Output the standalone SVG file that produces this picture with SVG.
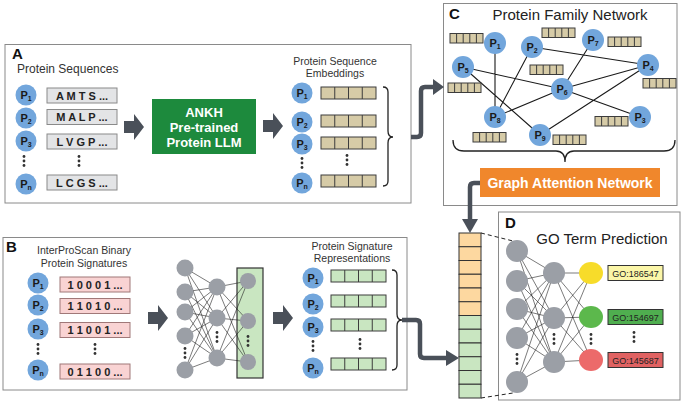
<svg xmlns="http://www.w3.org/2000/svg" xmlns:xlink="http://www.w3.org/1999/xlink" width="682" height="402" viewBox="0 0 682 402">
<style>
.panel{fill:#fff;stroke:#8a8a8a;stroke-width:1}
.pc{fill:#72a6dc}
.pl{font-family:'Liberation Sans',Arial,sans-serif;font-weight:bold;font-size:11px;fill:#1a1a1a;text-anchor:middle}
.sb{font-size:7px}
.seq{fill:#e3e4e6;stroke:#8a8a8a;stroke-width:1}
.bin{fill:#f9d3d3;stroke:#a07878;stroke-width:1}
.seqt{font-family:'Liberation Sans',Arial,sans-serif;font-weight:bold;font-size:11px;fill:#222;text-anchor:middle}
.lbl{font-family:'Liberation Sans',Arial,sans-serif;font-weight:bold;font-size:15px;fill:#111}
.t{font-family:'Liberation Sans',Arial,sans-serif;font-size:10.5px;fill:#333;text-anchor:middle}
.t12{font-family:'Liberation Sans',Arial,sans-serif;font-size:12px;fill:#333}
.title{font-family:'Liberation Sans',Arial,sans-serif;font-size:15px;fill:#222;text-anchor:middle}
.wb{font-family:'Liberation Sans',Arial,sans-serif;font-weight:bold;fill:#fff;text-anchor:middle}
.nn{fill:#9b9fa6}
.w{stroke:#222;stroke-width:0.6;fill:none}
.conn{fill:none;stroke:#4a5059;stroke-width:4.5;stroke-linejoin:round}
.head{fill:#4a5059}
.dot{fill:#333}
.brace{fill:none;stroke:#222;stroke-width:1.3}
.et{fill:#d6cba7;stroke:#3c3c3c;stroke-width:1}
.eg{fill:#c9e6c1;stroke:#3c3c3c;stroke-width:1}
.edge{stroke:#1a1a1a;stroke-width:1.1}
.go{font-family:'Liberation Sans',Arial,sans-serif;font-size:9px;fill:#222;text-anchor:middle}
</style>
<defs>
<g id="vd"><circle cy="-4.5" r="1.4"/><circle r="1.4"/><circle cy="4.5" r="1.4"/></g>
<g id="e4"><rect width="55" height="12"/><path d="M13.75,0v12M27.5,0v12M41.25,0v12"/></g>
<g id="e5"><rect width="33" height="9.5"/><path d="M6.6,0v9.5M13.2,0v9.5M19.8,0v9.5M26.4,0v9.5"/></g>
<path id="blk" d="M0,-6H10V-13L20,0L10,13V6H0Z"/>
</defs>

<!-- Panel A -->
<g id="panelA">
<rect class="panel" x="5" y="44.5" width="406" height="158.5"/>
<text class="lbl" x="12" y="59">A</text>
<text class="t12" x="17" y="73">Protein Sequences</text>
</g>
<g id="A-seq-nodes">
<circle class="pc" cx="26" cy="95" r="10.5"/><text class="pl" x="26" y="99">P<tspan class="sb" dy="2">1</tspan></text>
<circle class="pc" cx="26" cy="118" r="10.5"/><text class="pl" x="26" y="122">P<tspan class="sb" dy="2">2</tspan></text>
<circle class="pc" cx="26" cy="141" r="10.5"/><text class="pl" x="26" y="145">P<tspan class="sb" dy="2">3</tspan></text>
<use href="#vd" class="dot" x="24" y="161"/>
<circle class="pc" cx="26" cy="184" r="10.5"/><text class="pl" x="26" y="188">P<tspan class="sb" dy="2">n</tspan></text>
<rect class="seq" x="47" y="88" width="70" height="15"/><text class="seqt" x="82" y="99.5">A M T S ...</text>
<rect class="seq" x="47" y="109.5" width="70" height="15"/><text class="seqt" x="82" y="121">M A L P ...</text>
<rect class="seq" x="47" y="134" width="70" height="15"/><text class="seqt" x="82" y="145.5">L V G P ...</text>
<use href="#vd" class="dot" x="79" y="161"/>
<rect class="seq" x="47" y="175" width="70" height="15"/><text class="seqt" x="82" y="186.5">L C G S ...</text>
</g>
<g id="ankh">
<rect x="152" y="99" width="104" height="55" fill="#1d8a3d"/>
<text class="wb" font-size="13" x="204" y="117">ANKH</text>
<text class="wb" font-size="13" x="204" y="132">Pre-trained</text>
<text class="wb" font-size="13" x="204" y="147">Protein LLM</text>
</g>
<g id="A-emb">
<text class="t" x="335" y="65">Protein Sequence</text>
<text class="t" x="335" y="77">Embeddings</text>
<circle class="pc" cx="302" cy="93" r="10.5"/><text class="pl" x="302" y="97">P<tspan class="sb" dy="2">1</tspan></text>
<circle class="pc" cx="302" cy="122" r="10.5"/><text class="pl" x="302" y="126">P<tspan class="sb" dy="2">2</tspan></text>
<circle class="pc" cx="302" cy="144" r="10.5"/><text class="pl" x="302" y="148">P<tspan class="sb" dy="2">3</tspan></text>
<use href="#vd" class="dot" x="302" y="163"/>
<circle class="pc" cx="302" cy="183" r="10.5"/><text class="pl" x="302" y="187">P<tspan class="sb" dy="2">n</tspan></text>
<use href="#e4" class="et" x="321" y="87"/>
<use href="#e4" class="et" x="321" y="115"/>
<use href="#e4" class="et" x="321" y="137"/>
<use href="#vd" class="dot" x="347" y="160"/>
<use href="#e4" class="et" x="321" y="175"/>
<path class="brace" d="M383,87 Q388,87 388,92 V131 Q388,137 393,137 Q388,137 388,143 V181 Q388,186 383,186"/>
</g>

<!-- Panel C -->
<g id="panelC">
<rect class="panel" x="443.5" y="3.5" width="233.5" height="202"/>
<text class="lbl" x="449" y="19" font-size="14">C</text>
<text class="title" x="570" y="20">Protein Family Network</text>
</g>
<g id="C-edges">
<path class="edge" d="M495,43L495,117M532,47L495,117M532,47L648,65M463,67L562,89M562,89L640,117M463,67L540,135M593,40L562,89M562,89L648,65M495,117L562,89M648,65L540,135"/>
</g>
<g id="C-emb">
<use href="#e5" class="et" x="450" y="33.5"/>
<use href="#e5" class="et" x="542" y="28"/>
<use href="#e5" class="et" x="608" y="37"/>
<use href="#e5" class="et" x="530" y="65"/>
<use href="#e5" class="et" x="448" y="83"/>
<use href="#e5" class="et" x="643" y="78.5"/>
<use href="#e5" class="et" x="595" y="116.5"/>
<use href="#e5" class="et" x="473" y="132.5"/>
<use href="#e5" class="et" x="553" y="135"/>
</g>
<g id="C-nodes">
<g id="nP1"><circle class="pc" cx="495" cy="43" r="11"/><text class="pl" x="495" y="47">P<tspan class="sb" dy="2">1</tspan></text></g>
<g id="nP2"><circle class="pc" cx="532" cy="47" r="11"/><text class="pl" x="532" y="51">P<tspan class="sb" dy="2">2</tspan></text></g>
<g id="nP7"><circle class="pc" cx="593" cy="40" r="11"/><text class="pl" x="593" y="44">P<tspan class="sb" dy="2">7</tspan></text></g>
<g id="nP5"><circle class="pc" cx="463" cy="67" r="11"/><text class="pl" x="463" y="71">P<tspan class="sb" dy="2">5</tspan></text></g>
<g id="nP4"><circle class="pc" cx="648" cy="65" r="11"/><text class="pl" x="648" y="69">P<tspan class="sb" dy="2">4</tspan></text></g>
<g id="nP6"><circle class="pc" cx="562" cy="89" r="11"/><text class="pl" x="562" y="93">P<tspan class="sb" dy="2">6</tspan></text></g>
<g id="nP8"><circle class="pc" cx="495" cy="117" r="11"/><text class="pl" x="495" y="121">P<tspan class="sb" dy="2">8</tspan></text></g>
<g id="nP3"><circle class="pc" cx="640" cy="117" r="11"/><text class="pl" x="640" y="121">P<tspan class="sb" dy="2">3</tspan></text></g>
<g id="nP9"><circle class="pc" cx="540" cy="135" r="11"/><text class="pl" x="540" y="139">P<tspan class="sb" dy="2">9</tspan></text></g>
</g>
<path class="brace" d="M453,140 Q453,151 464,151 H556 Q565,151 565,162 Q565,151 574,151 H664 Q675,151 675,140"/>
<g id="gat">
<rect x="480" y="168" width="180" height="29" fill="#f0872c"/>
<text class="wb" font-size="14" x="570" y="187.5">Graph Attention Network</text>
</g>

<!-- Panel B -->
<g id="panelB">
<rect class="panel" x="3" y="237.5" width="404" height="152.5"/>
<text class="lbl" x="6" y="252" font-size="14">B</text>
<text class="t" x="84" y="254">InterProScan Binary</text>
<text class="t" x="84" y="267">Protein Signatures</text>
</g>
<g id="B-bin">
<circle class="pc" cx="38" cy="283" r="10.5"/><text class="pl" x="38" y="287">P<tspan class="sb" dy="2">1</tspan></text>
<circle class="pc" cx="38" cy="305" r="10.5"/><text class="pl" x="38" y="309">P<tspan class="sb" dy="2">2</tspan></text>
<circle class="pc" cx="38" cy="329" r="10.5"/><text class="pl" x="38" y="333">P<tspan class="sb" dy="2">3</tspan></text>
<use href="#vd" class="dot" x="38" y="349"/>
<circle class="pc" cx="38" cy="370" r="10.5"/><text class="pl" x="38" y="374">P<tspan class="sb" dy="2">n</tspan></text>
<rect class="bin" x="60" y="277" width="70" height="15"/><text class="seqt" x="95" y="288.5">1 0 0 0 1 ...</text>
<rect class="bin" x="60" y="298.5" width="70" height="15"/><text class="seqt" x="95" y="310">1 1 0 1 0 ...</text>
<rect class="bin" x="60" y="322.5" width="70" height="15"/><text class="seqt" x="95" y="334">1 1 0 0 1 ...</text>
<use href="#vd" class="dot" x="95" y="349"/>
<rect class="bin" x="60" y="364" width="70" height="15"/><text class="seqt" x="95" y="375.5">0 1 1 0 0 ...</text>
</g>
<g id="B-nn">
<rect x="237" y="268" width="26" height="110" fill="#c9e6c1" stroke="#333" stroke-width="1.2"/>
<path class="w" d="M185,268L217,287M185,268L217,318M185,268L217,358M185,292L217,287M185,292L217,318M185,292L217,358M185,312L217,287M185,312L217,318M185,312L217,358M185,336L217,287M185,336L217,318M185,336L217,358M185,370L217,287M185,370L217,318M185,370L217,358M217,287L248,281M217,287L248,321M217,287L248,362M217,318L248,281M217,318L248,321M217,318L248,362M217,358L248,281M217,358L248,321M217,358L248,362"/>
<circle class="nn" cx="185" cy="268" r="8.5"/>
<circle class="nn" cx="185" cy="292" r="8.5"/>
<circle class="nn" cx="185" cy="312" r="8.5"/>
<circle class="nn" cx="185" cy="336" r="8.5"/>
<use href="#vd" class="dot" x="185" y="353"/>
<circle class="nn" cx="185" cy="370" r="8.5"/>
<circle class="nn" cx="217" cy="287" r="8.5"/>
<circle class="nn" cx="217" cy="318" r="8.5"/>
<use href="#vd" class="dot" x="217" y="337"/>
<circle class="nn" cx="217" cy="358" r="8.5"/>
<circle class="nn" cx="248" cy="281" r="8"/>
<circle class="nn" cx="248" cy="321" r="8"/>
<use href="#vd" class="dot" x="248" y="341"/>
<circle class="nn" cx="248" cy="362" r="8"/>
</g>
<g id="B-rep">
<text class="t" x="352" y="250">Protein Signature</text>
<text class="t" x="352" y="262">Representations</text>
<circle class="pc" cx="313" cy="278" r="10.5"/><text class="pl" x="313" y="282">P<tspan class="sb" dy="2">1</tspan></text>
<circle class="pc" cx="313" cy="304" r="10.5"/><text class="pl" x="313" y="308">P<tspan class="sb" dy="2">2</tspan></text>
<circle class="pc" cx="313" cy="327" r="10.5"/><text class="pl" x="313" y="331">P<tspan class="sb" dy="2">3</tspan></text>
<use href="#vd" class="dot" x="313" y="346"/>
<circle class="pc" cx="313" cy="368" r="10.5"/><text class="pl" x="313" y="372">P<tspan class="sb" dy="2">n</tspan></text>
<use href="#e4" class="eg" x="331" y="270"/>
<use href="#e4" class="eg" x="331" y="295"/>
<use href="#e4" class="eg" x="331" y="319"/>
<use href="#vd" class="dot" x="360" y="344"/>
<use href="#e4" class="eg" x="331" y="358"/>
<path class="brace" d="M392,270 Q397,270 397,275 V314 Q397,320 402,320 Q397,320 397,326 V365 Q397,370 392,370"/>
</g>

<!-- Combined column -->
<g id="column" stroke="#333" stroke-width="1">
<rect x="459" y="233" width="22" height="13.75" fill="#fdd8a0"/>
<rect x="459" y="246.75" width="22" height="13.75" fill="#fdd8a0"/>
<rect x="459" y="260.5" width="22" height="13.75" fill="#fdd8a0"/>
<rect x="459" y="274.25" width="22" height="13.75" fill="#fdd8a0"/>
<rect x="459" y="288" width="22" height="13.75" fill="#fdd8a0"/>
<rect x="459" y="301.75" width="22" height="13.75" fill="#fdd8a0"/>
<rect x="459" y="315.5" width="22" height="13.75" fill="#c9e6c1"/>
<rect x="459" y="329.25" width="22" height="13.75" fill="#c9e6c1"/>
<rect x="459" y="343" width="22" height="13.75" fill="#c9e6c1"/>
<rect x="459" y="356.75" width="22" height="13.75" fill="#c9e6c1"/>
<rect x="459" y="370.5" width="22" height="13.75" fill="#c9e6c1"/>
<rect x="459" y="384.25" width="22" height="13.75" fill="#c9e6c1"/>
</g>

<!-- Panel D -->
<g id="panelD">
<rect class="panel" x="498.5" y="212" width="181.5" height="188"/>
<text class="lbl" x="505" y="228" font-size="14">D</text>
<text class="title" x="602" y="244">GO Term Prediction</text>
</g>
<g id="D-nn">
<path class="w" d="M517,251L554,273M517,251L554,318M517,251L554,362M517,281L554,273M517,281L554,318M517,281L554,362M517,309L554,273M517,309L554,318M517,309L554,362M517,338L554,273M517,338L554,318M517,338L554,362M517,382L554,273M517,382L554,318M517,382L554,362M554,273L591,273M554,273L591,317M554,273L591,360M554,318L591,273M554,318L591,317M554,318L591,360M554,362L591,273M554,362L591,317M554,362L591,360"/>
<circle class="nn" cx="517" cy="251" r="11"/>
<circle class="nn" cx="517" cy="281" r="11"/>
<circle class="nn" cx="517" cy="309" r="11"/>
<circle class="nn" cx="517" cy="338" r="11"/>
<use href="#vd" class="dot" x="517" y="359"/>
<circle class="nn" cx="517" cy="382" r="11"/>
<circle class="nn" cx="554" cy="273" r="11"/>
<circle class="nn" cx="554" cy="318" r="11"/>
<use href="#vd" class="dot" x="554" y="339"/>
<circle class="nn" cx="554" cy="362" r="11"/>
<ellipse cx="591" cy="273" rx="12" ry="11" fill="#f7dc2a"/>
<ellipse cx="591" cy="317" rx="12" ry="11" fill="#5cb84c"/>
<use href="#vd" class="dot" x="591" y="339"/>
<ellipse cx="591" cy="360" rx="12" ry="11" fill="#ec6a6a"/>
</g>
<g id="D-go">
<rect x="608" y="265.5" width="55" height="15" fill="#fbf6a8" stroke="#333"/><text class="go" x="635.5" y="276.5">GO:186547</text>
<rect x="608" y="309.5" width="55" height="15" fill="#4fae4f" stroke="#333"/><text class="go" x="635.5" y="320.5">GO:154697</text>
<use href="#vd" class="dot" x="634" y="337"/>
<rect x="608" y="352.5" width="55" height="15" fill="#e06262" stroke="#333"/><text class="go" x="635.5" y="363.5">GO:145687</text>
</g>

<!-- Connectors -->
<g id="connectors">
<use href="#blk" class="head" x="124" y="127"/>
<use href="#blk" class="head" x="263" y="126"/>
<use href="#blk" class="head" x="148" y="318"/>
<use href="#blk" class="head" x="273" y="318"/>
<path class="conn" d="M411,137 H417 Q421,137 421,133 V91 Q421,87 425,87 H434"/>
<polygon class="head" points="433,79 444,87 433,95"/>
<path class="conn" d="M480,183 H474 Q470,183 470,187 V220"/>
<polygon class="head" points="462,219 478,219 470,233"/>
<path class="conn" d="M402,320 H416 Q420,320 420,324 V354 Q420,358 424,358 H447"/>
<polygon class="head" points="446,350 446,366 459,358"/>
<path d="M481,233 L513,241 M481,398 L513,393" stroke="#222" stroke-width="1" stroke-dasharray="4,3" fill="none"/>
</g>
</svg>
